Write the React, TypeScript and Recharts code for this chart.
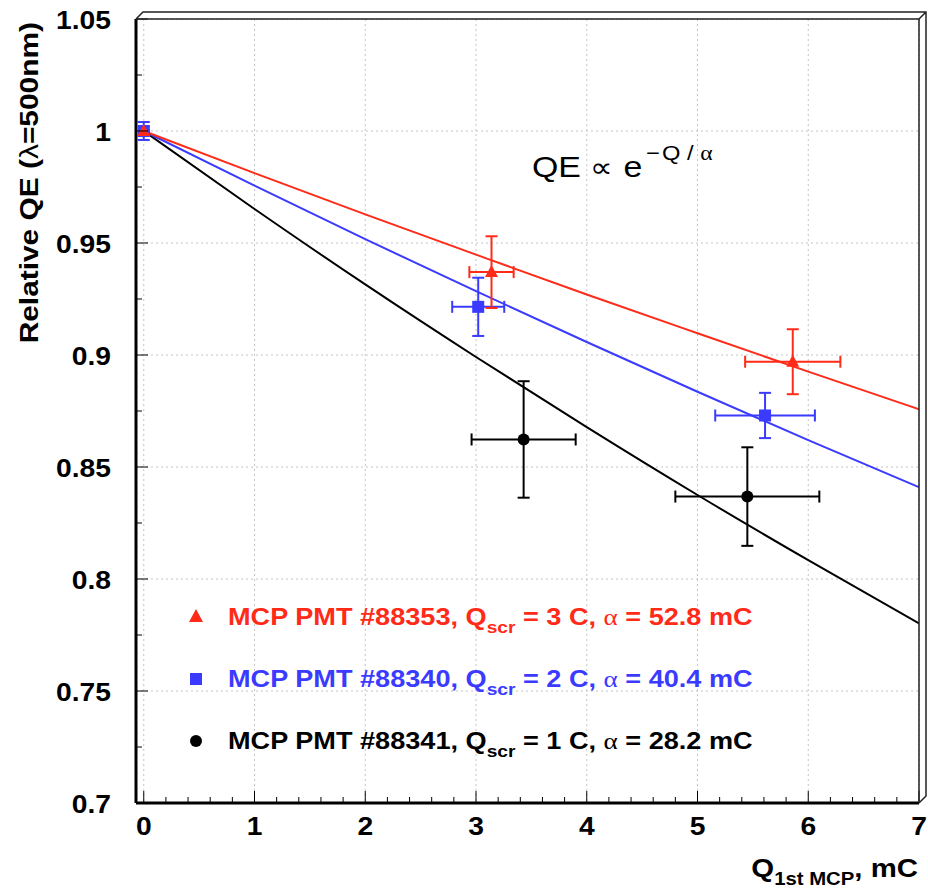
import { ComposedChart, XAxis, YAxis, CartesianGrid, Line, Scatter, ErrorBar } from "recharts";

const xMajorTicks = [0, 1, 2, 3, 4, 5, 6, 7];
const yMajorTicks = [0.7, 0.75, 0.8, 0.85, 0.9, 0.95, 1, 1.05];

// measured points: Q on first MCP (mC), relative QE, and their errors
const redQ = [0, 3.14, 5.86];
const redQE = [1.0, 0.937, 0.897];
const redQErr = [0, 0.2, 0.43];
const redQEErr = [0.002, 0.016, 0.0145];

const blueQ = [0, 3.02, 5.61];
const blueQE = [1.0, 0.9215, 0.873];
const blueQErr = [0, 0.235, 0.45];
const blueQEErr = [0.004, 0.013, 0.0101];

const blackQ = [0, 3.43, 5.45];
const blackQE = [1.0, 0.8623, 0.8368];
const blackQErr = [0, 0.47, 0.65];
const blackQEErr = [0, 0.026, 0.022];

// fitted curves
const fitQ = [0, 1, 2, 3, 4, 5, 6, 7];
const redFit = [1, 0.9812, 0.9628, 0.9448, 0.927, 0.9097, 0.8926, 0.8758];
const blueFit = [1, 0.9756, 0.9517, 0.9285, 0.9058, 0.8836, 0.862, 0.841];
const blackFit = [1, 0.9652, 0.9315, 0.8991, 0.8678, 0.8375, 0.8084, 0.7802];

const RED = "#ff2a17";
const BLUE = "#3b3bff";
const BLACK = "#000000";
const FONT = "'Liberation Sans', Arial, Helvetica, sans-serif";
const SERIF = "'Liberation Serif', 'Times New Roman', serif";
const WIDE = 1.13; // the original lettering is a bit wider than Liberation Sans

const xTicks = Array.from({ length: 36 }, (_, i) => +(i * 0.2).toFixed(2));
const yTicks = Array.from({ length: 15 }, (_, i) => +(0.7 + i * 0.025).toFixed(3));

const points = (q: number[], qe: number[], eq: number[], eqe: number[]) =>
  q.map((x, i) => ({ x, y: qe[i], ex: eq[i], ey: eqe[i] }));
const curve = (vals: number[]) => fitQ.map((x, i) => ({ x, y: vals[i] }));

const redPts = points(redQ, redQE, redQErr, redQEErr);
const bluePts = points(blueQ, blueQE, blueQErr, blueQEErr);
const blackPts = points(blackQ, blackQE, blackQErr, blackQEErr);

const isMajor = (v: number, step: number) => Math.abs(v / step - Math.round(v / step)) < 1e-6;

function XTick(props: any) {
  const { x, y, payload } = props;
  const v = payload.value;
  const major = isMajor(v, 1);
  return (
    <g>
      <line x1={x} y1={y} x2={x} y2={y - (major ? 12 : 6)} stroke="#000" strokeWidth={1} />
      {major && (
        <text
          transform={`translate(${x},${y + 32}) scale(${WIDE},1)`}
          textAnchor="middle"
          fontSize={25}
          fontWeight="bold"
          fontFamily={FONT}
          fill="#000"
        >
          {String(v)}
        </text>
      )}
    </g>
  );
}

function YTick(props: any) {
  const { x, y, payload } = props;
  const v = payload.value;
  const major = isMajor(v, 0.05);
  return (
    <g>
      <line x1={x} y1={y} x2={x + (major ? 12 : 6)} y2={y} stroke="#000" strokeWidth={1} />
      {major && (
        <text
          transform={`translate(${x - 25},${y + 10}) scale(${WIDE},1)`}
          textAnchor="end"
          fontSize={25}
          fontWeight="bold"
          fontFamily={FONT}
          fill="#000"
        >
          {String(v)}
        </text>
      )}
    </g>
  );
}

const triangle = (p: any) => (
  <polygon points={`${p.cx},${p.cy - 7} ${p.cx - 6.5},${p.cy + 5} ${p.cx + 6.5},${p.cy + 5}`} fill={RED} />
);
const square = (p: any) => <rect x={p.cx - 6} y={p.cy - 6} width={12} height={12} fill={BLUE} />;
const circle = (p: any) => <circle cx={p.cx} cy={p.cy} r={6} fill={BLACK} />;

function LegendLine({ y, color, name, charge, alpha }: { y: number; color: string; name: string; charge: string; alpha: string }) {
  return (
    <text
      transform={`translate(228,${y + 8}) scale(${WIDE},1)`}
      fontSize={24}
      fontWeight="bold"
      fontFamily={FONT}
      fill={color}
    >
      {`MCP PMT #${name}, Q`}
      <tspan dy={8} fontSize={17}>scr</tspan>
      <tspan dy={-8}>{` = ${charge} C, `}</tspan>
      <tspan fontFamily={SERIF} fontWeight="normal">α</tspan>
      <tspan>{` =  ${alpha} mC`}</tspan>
    </text>
  );
}

export default function App() {
  return (
    <div style={{ position: "absolute", left: 0, top: 0, width: 928, height: 896, background: "#fff" }}>
      <ComposedChart width={928} height={896} margin={{ top: 19, right: 9, bottom: 0, left: 0 }}>
        <CartesianGrid
          verticalValues={xMajorTicks}
          horizontalValues={yMajorTicks}
          stroke="#c4c4c4"
          strokeDasharray="2 3"
        />
        <XAxis
          type="number"
          dataKey="x"
          domain={[-0.07, 7]}
          allowDataOverflow
          ticks={xTicks}
          interval={0}
          height={93}
          tickSize={0}
          tickMargin={0}
          tickLine={false}
          axisLine={{ stroke: "#000", strokeWidth: 3 }}
          tick={(p: any) => <XTick {...p} />}
        />
        <YAxis
          type="number"
          dataKey="y"
          domain={[0.7, 1.05]}
          allowDataOverflow
          ticks={yTicks}
          interval={0}
          width={136}
          tickSize={0}
          tickMargin={0}
          tickLine={false}
          axisLine={{ stroke: "#000", strokeWidth: 3 }}
          tick={(p: any) => <YTick {...p} />}
        />
        <Line data={curve(blackFit)} dataKey="y" type="monotone" stroke={BLACK} strokeWidth={2} dot={false} isAnimationActive={false} />
        <Line data={curve(blueFit)} dataKey="y" type="monotone" stroke={BLUE} strokeWidth={2} dot={false} isAnimationActive={false} />
        <Line data={curve(redFit)} dataKey="y" type="monotone" stroke={RED} strokeWidth={2} dot={false} isAnimationActive={false} />
        <Scatter data={blackPts} shape={circle} isAnimationActive={false}>
          <ErrorBar dataKey="ex" direction="x" width={6} stroke={BLACK} strokeWidth={2} />
          <ErrorBar dataKey="ey" direction="y" width={6} stroke={BLACK} strokeWidth={2} />
        </Scatter>
        <Scatter data={bluePts} shape={square} isAnimationActive={false}>
          <ErrorBar dataKey="ex" direction="x" width={6} stroke={BLUE} strokeWidth={2} />
          <ErrorBar dataKey="ey" direction="y" width={6} stroke={BLUE} strokeWidth={2} />
        </Scatter>
        <Scatter data={redPts} shape={triangle} isAnimationActive={false}>
          <ErrorBar dataKey="ex" direction="x" width={6} stroke={RED} strokeWidth={2} />
          <ErrorBar dataKey="ey" direction="y" width={6} stroke={RED} strokeWidth={2} />
        </Scatter>
      </ComposedChart>

      <svg width={928} height={896} style={{ position: "absolute", left: 0, top: 0, pointerEvents: "none" }}>
        {/* frame top / right with bevel */}
        <path d="M136,19 L919,19 L919,803" fill="none" stroke="#222" strokeWidth={1.5} />
        <path d="M136,19 L143,12 L926,12 L926,796 L919,803 M919,19 L926,12" fill="none" stroke="#222" strokeWidth={1.5} />

        {/* formula */}
        <g transform={`translate(532,177) scale(${WIDE},1)`} fontFamily={FONT} fill="#000">
          <text>
            <tspan x={0} fontSize={30}>QE</tspan>
            <tspan x={51} fontSize={28}>∝</tspan>
            <tspan x={81} fontSize={30}>e</tspan>
            <tspan x={101} dy={-17} fontSize={21}>−</tspan>
            <tspan x={115} fontSize={21}>{"Q / "}</tspan>
            <tspan fontSize={21} fontFamily={SERIF}>α</tspan>
          </text>
        </g>

        {/* legend */}
        <polygon points="196,609 189,622 203,622" fill={RED} />
        <LegendLine y={617} color={RED} name="88353" charge="3" alpha="52.8" />
        <rect x={190} y={673} width={12} height={12} fill={BLUE} />
        <LegendLine y={679} color={BLUE} name="88340" charge="2" alpha="40.4" />
        <circle cx={196} cy={741} r={6} fill={BLACK} />
        <LegendLine y={741} color={BLACK} name="88341" charge="1" alpha="28.2" />

        {/* axis titles */}
        <text
          transform="translate(38,22) rotate(-90) scale(1.15,1)"
          textAnchor="end"
          fontSize={26}
          fontWeight="bold"
          fontFamily={FONT}
          fill="#000"
        >
          {"Relative QE ("}
          <tspan fontWeight="normal">λ</tspan>
          {"=500nm)"}
        </text>
        <text
          transform={`translate(918,877) scale(${WIDE},1)`}
          textAnchor="end"
          fontSize={26}
          fontWeight="bold"
          fontFamily={FONT}
          fill="#000"
        >
          Q<tspan dy={8} fontSize={18}>1st MCP</tspan>
          <tspan dy={-8}>, mC</tspan>
        </text>
      </svg>
    </div>
  );
}
